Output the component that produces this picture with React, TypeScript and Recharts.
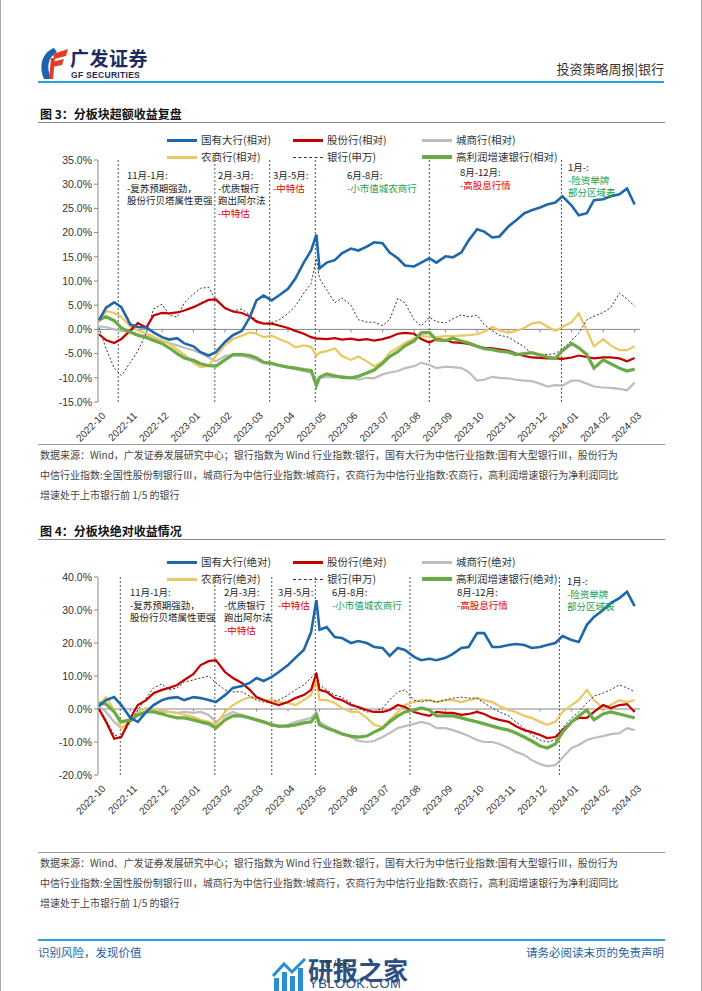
import React from "react";
import { LineChart, Line, XAxis, YAxis, ReferenceLine } from "recharts";

// 时间点（每月四个采样点，另加 2023-04-28 尖峰）
const dates = [
  "2022-10-01", "2022-10-08", "2022-10-16", "2022-10-23",
  "2022-11-01", "2022-11-08", "2022-11-16", "2022-11-23",
  "2022-12-01", "2022-12-08", "2022-12-16", "2022-12-23",
  "2023-01-01", "2023-01-08", "2023-01-16", "2023-01-23",
  "2023-02-01", "2023-02-08", "2023-02-16", "2023-02-23",
  "2023-03-01", "2023-03-08", "2023-03-16", "2023-03-23",
  "2023-04-01", "2023-04-08", "2023-04-16", "2023-04-23", "2023-04-28",
  "2023-05-01", "2023-05-08", "2023-05-16", "2023-05-23",
  "2023-06-01", "2023-06-08", "2023-06-16", "2023-06-23",
  "2023-07-01", "2023-07-08", "2023-07-16", "2023-07-23",
  "2023-08-01", "2023-08-08", "2023-08-16", "2023-08-23",
  "2023-09-01", "2023-09-08", "2023-09-16", "2023-09-23",
  "2023-10-01", "2023-10-08", "2023-10-16", "2023-10-23",
  "2023-11-01", "2023-11-08", "2023-11-16", "2023-11-23",
  "2023-12-01", "2023-12-08", "2023-12-16", "2023-12-23",
  "2024-01-01", "2024-01-08", "2024-01-16", "2024-01-23",
  "2024-02-01", "2024-02-08", "2024-02-16", "2024-02-23",
  "2024-03-01",
];

const monthLabels = [
  "2022-10", "2022-11", "2022-12", "2023-01", "2023-02", "2023-03", "2023-04", "2023-05", "2023-06",
  "2023-07", "2023-08", "2023-09", "2023-10", "2023-11", "2023-12", "2024-01", "2024-02", "2024-03",
];

// 图3 相对收益（%）
const relBig = [1.9, 4.5, 5.6, 4.6, 1.0, 0.5, 0.4, -0.6, -1.6, -2.1, -1.8, -2.9, -3.5, -4.7, -5.4, -4.7, -2.6, -1.2, -0.3, 2.5, 6.0, 7.0, 6.0, 7.0, 8.4, 10.5, 13.8, 16.3, 19.6, 12.6, 13.8, 14.3, 15.7, 16.7, 16.3, 17.1, 18.0, 17.8, 15.9, 14.7, 13.2, 13.0, 13.8, 14.7, 13.8, 15.1, 14.9, 15.9, 18.4, 20.7, 20.2, 19.0, 19.2, 21.3, 22.5, 24.0, 24.6, 25.2, 25.8, 26.2, 27.5, 25.6, 23.6, 24.0, 26.7, 26.9, 27.5, 27.9, 29.1, 25.8];
const relJoint = [-1.0, -2.2, -2.8, -2.0, -0.2, 1.3, 0.4, 2.9, 3.4, 3.3, 3.5, 3.9, 4.6, 5.3, 6.1, 6.2, 4.4, 3.7, 3.4, 2.7, 1.6, 1.2, 1.2, 0.8, 0.3, -0.3, -0.9, -1.6, -1.9, -1.9, -2.0, -1.8, -2.1, -1.9, -2.2, -2.0, -2.3, -2.0, -1.6, -0.9, -0.7, -0.9, -2.0, -2.7, -2.0, -2.2, -2.7, -2.8, -3.0, -3.5, -3.8, -3.9, -4.1, -4.4, -5.0, -5.5, -5.8, -5.9, -6.0, -6.0, -6.1, -5.8, -5.4, -5.7, -6.0, -5.8, -5.8, -6.0, -6.6, -5.9];
const relCity = [0.6, 0.5, 0.0, -0.3, -0.5, -1.0, -1.4, -2.0, -2.3, -2.8, -3.3, -3.8, -4.3, -4.9, -5.8, -6.6, -5.5, -5.3, -5.4, -5.9, -6.3, -7.0, -7.2, -7.5, -7.9, -8.2, -8.6, -9.0, -10.5, -10.0, -9.8, -9.9, -9.6, -10.0, -10.4, -10.0, -10.1, -9.3, -8.9, -8.6, -8.0, -7.6, -6.9, -7.3, -8.0, -7.7, -7.8, -8.0, -8.8, -10.6, -10.4, -9.8, -10.0, -10.1, -10.4, -10.6, -10.7, -11.2, -11.8, -11.5, -11.6, -10.6, -10.6, -11.2, -11.8, -12.0, -12.1, -12.3, -12.6, -11.0];
const relRural = [1.5, 3.8, 3.4, 2.6, 0.6, -0.2, -0.8, -1.5, -2.3, -2.9, -4.2, -5.2, -6.9, -7.8, -7.5, -5.5, -3.3, -2.0, -1.3, -0.6, -0.9, -1.6, -1.3, -2.0, -2.7, -3.7, -3.3, -3.6, -5.4, -4.8, -4.5, -3.9, -5.5, -6.3, -5.6, -6.6, -7.6, -6.7, -4.8, -3.8, -2.8, -1.9, -1.4, -1.5, -1.6, -1.4, -1.4, -1.3, -1.2, -1.0, -0.5, 0.5, -0.2, -0.7, -0.3, 0.3, 1.2, 1.5, 0.6, -0.3, 0.5, 1.5, 3.3, -0.2, -3.5, -2.0, -3.3, -4.3, -4.3, -3.5];
const relBank = [0.4, -4.0, -8.0, -9.5, -6.8, -4.5, -0.8, 4.2, 5.2, 3.0, 2.5, 5.5, 7.3, 8.5, 8.7, 6.0, 4.3, 3.8, 4.2, 3.0, 1.9, 1.2, 1.4, 1.9, 3.3, 4.8, 7.5, 9.5, 14.7, 10.5, 8.2, 5.5, 6.5, 5.0, 2.0, 1.5, 1.5, 0.8, 2.0, 6.4, 5.5, 2.0, 0.7, 2.5, 1.6, 1.3, 2.2, 3.0, 2.6, 2.9, 1.0, -0.3, -1.2, -1.6, -2.6, -3.6, -5.0, -5.1, -5.2, -5.0, -4.0, -2.3, -0.8, 2.0, 2.7, 3.5, 4.5, 7.5, 6.3, 4.8];
const relHigh = [2.0, 2.6, 1.8, 0.3, -0.6, -1.2, -1.7, -2.3, -2.9, -3.8, -5.0, -5.9, -6.4, -7.1, -7.5, -7.6, -6.3, -5.2, -5.2, -5.4, -5.9, -6.8, -7.0, -7.4, -7.8, -8.0, -8.3, -8.5, -11.6, -9.9, -9.2, -9.6, -9.9, -10.0, -9.7, -9.0, -8.4, -7.0, -5.6, -4.6, -3.4, -2.4, -0.7, -0.6, -2.2, -2.3, -1.8, -2.4, -2.8, -3.5, -4.0, -4.2, -4.5, -4.7, -5.2, -5.0, -4.8, -5.3, -5.7, -6.0, -4.4, -2.9, -3.8, -5.2, -8.0, -6.3, -7.1, -8.0, -8.6, -8.2];

// 图4 绝对收益（%）
const absBig = [0.9, 2.7, 3.6, 1.2, -2.7, -3.9, -0.9, 1.2, 2.7, 3.3, 3.6, 2.7, 3.6, 3.3, 2.7, 2.1, 4.2, 6.4, 7.0, 7.9, 9.4, 8.5, 9.7, 11.2, 13.3, 15.5, 17.9, 23.3, 33.0, 24.0, 24.8, 21.8, 21.5, 20.0, 20.6, 20.0, 18.8, 18.5, 16.1, 18.5, 17.9, 15.8, 14.8, 15.2, 14.8, 15.5, 16.7, 18.5, 18.8, 23.0, 23.0, 18.8, 18.8, 19.4, 19.7, 19.4, 18.5, 18.8, 19.4, 20.0, 22.1, 20.9, 20.3, 25.5, 27.9, 30.0, 32.1, 33.6, 35.5, 31.2];
const absJoint = [0.0, -3.9, -9.0, -8.5, -2.7, 1.2, 2.7, 4.8, 5.8, 6.4, 7.3, 8.8, 10.6, 13.3, 14.5, 14.8, 11.2, 9.4, 7.9, 5.8, 3.6, 2.7, 1.8, 1.2, 2.1, 3.3, 4.2, 5.8, 10.9, 5.8, 5.2, 3.3, 2.7, 1.2, 0.6, -0.3, -0.9, -0.9, -0.3, 1.2, 0.6, -0.9, -1.5, -2.1, -0.9, -1.2, -1.2, -1.8, -1.5, -0.9, -1.5, -2.7, -3.3, -3.9, -5.2, -6.4, -7.0, -7.9, -8.8, -8.5, -6.4, -3.9, -2.7, -2.7, -0.9, 1.2, 0.3, 1.2, 1.5, -0.9];
const absCity = [0.9, -0.9, -3.9, -5.8, -3.9, -1.8, -0.9, -0.9, -0.9, -0.9, -1.2, -0.9, -1.2, -0.9, -1.8, -3.9, -2.1, -0.9, -1.8, -2.7, -3.3, -4.2, -4.5, -5.5, -4.8, -3.9, -3.3, -2.7, -0.9, -3.9, -5.2, -6.4, -7.3, -8.5, -9.7, -10.0, -9.7, -8.5, -7.3, -5.8, -5.2, -4.5, -3.9, -4.5, -5.8, -5.8, -6.4, -7.3, -8.2, -9.4, -10.0, -10.0, -10.6, -11.8, -13.0, -13.9, -15.5, -16.7, -17.3, -17.0, -14.8, -11.8, -10.9, -9.4, -8.8, -8.2, -7.6, -7.3, -5.8, -6.4];
const absRural = [1.5, 3.6, -0.3, -5.8, -3.9, -0.9, 0.3, -0.3, -0.3, -0.9, -1.2, -1.8, -2.4, -3.3, -3.9, -4.8, -0.9, 1.2, 2.7, 3.6, 3.3, 2.7, 2.7, 2.1, 1.8, 1.2, 2.7, 4.2, 8.8, 2.7, 2.7, 1.8, 0.3, -0.9, -0.9, -2.7, -4.8, -5.5, -3.3, -0.9, 1.2, 2.1, 2.7, 2.7, 2.1, 2.7, 2.7, 2.1, 2.7, 3.3, 2.7, 2.1, 0.9, -0.3, -0.9, -2.1, -2.7, -3.9, -4.8, -3.9, -0.9, 1.2, 2.7, 5.8, 2.7, 0.3, 1.2, 2.7, 2.1, 2.7];
const absBank = [0.3, -3.3, -7.9, -8.5, -3.9, -0.3, 3.3, 6.4, 7.6, 5.8, 6.4, 8.2, 8.8, 9.4, 10.0, 7.9, 5.8, 5.2, 5.2, 3.9, 2.7, 2.1, 2.1, 2.7, 4.2, 5.8, 7.3, 9.4, 11.2, 7.3, 5.8, 4.2, 3.6, 1.8, 0.3, -0.9, -0.9, 0.3, 2.7, 5.2, 5.8, 2.7, 2.1, 2.7, 2.1, 2.7, 3.3, 3.6, 3.3, 3.3, 1.8, 0.3, -0.9, -2.1, -3.9, -5.8, -7.9, -9.4, -10.0, -9.4, -5.8, -2.7, -0.9, 1.8, 3.9, 4.8, 5.8, 7.3, 6.4, 5.2];
const absHigh = [1.8, 1.5, -0.9, -3.9, -3.3, -1.8, -0.9, -0.9, -1.5, -2.1, -2.7, -2.7, -3.3, -3.9, -4.5, -5.8, -3.3, -2.1, -2.1, -2.7, -3.3, -3.9, -4.8, -5.2, -5.2, -4.8, -4.2, -3.9, -1.8, -4.8, -5.8, -6.7, -7.6, -8.2, -8.5, -8.2, -7.0, -5.8, -3.9, -2.1, -0.9, -0.3, 0.3, -0.3, -2.1, -2.1, -2.1, -2.7, -3.3, -3.9, -4.5, -5.2, -5.8, -6.4, -7.3, -8.5, -9.7, -11.2, -11.8, -10.6, -7.0, -3.9, -2.1, -0.3, -3.3, -1.5, -0.9, -1.5, -2.1, -2.7];

// 分段标记（竖虚线）
const marks3 = ["2022-10-20", "2023-01-22", "2023-03-14", "2023-04-27", "2023-08-16", "2023-12-22"];
const marks4 = ["2022-10-22", "2023-01-22", "2023-03-16", "2023-04-27", "2023-07-28", "2023-12-20"];

const toT = (s: string) => {
  const [y, m, d] = s.split("-").map(Number);
  const dim = new Date(y, m, 0).getDate();
  return (y - 2022) * 12 + (m - 10) + (d - 1) / dim;
};

const build = (big: number[], joint: number[], city: number[], rural: number[], bank: number[], high: number[]) =>
  dates.map((d, i) => ({ t: toT(d), big: big[i], joint: joint[i], city: city[i], rural: rural[i], bank: bank[i], high: high[i] }));

const data3 = build(relBig, relJoint, relCity, relRural, relBank, relHigh);
const data4 = build(absBig, absJoint, absCity, absRural, absBank, absHigh);

const series = [
  { key: "city", color: "#bdbdbd", width: 2.2, dash: undefined },
  { key: "rural", color: "#ebc760", width: 2.2, dash: undefined },
  { key: "bank", color: "#333333", width: 1, dash: "2 2" },
  { key: "joint", color: "#c40000", width: 2.2, dash: undefined },
  { key: "high", color: "#6aab45", width: 3.2, dash: undefined },
  { key: "big", color: "#1d67aa", width: 2.6, dash: undefined },
];

const FONT = "'Liberation Sans', Arial, 'Noto Sans CJK SC', sans-serif";
const CJK = "'Noto Sans CJK SC', 'Liberation Sans', sans-serif";
const RED = "#e00000";
const GREEN = "#1aa050";

const RotTick = (props: any) => {
  const { x, y, payload } = props;
  return (
    <g transform={`translate(${x + 3},${y + 2})`}>
      <text x={0} y={0} dy={6} textAnchor="end" transform="rotate(-45)" fontSize={10} fill="#333" fontFamily={FONT}>
        {monthLabels[payload.value]}
      </text>
    </g>
  );
};

type PanelProps = {
  top: number;
  plotTop: number;
  plotBottom: number;
  axisH: number;
  domain: [number, number];
  yTicks: number[];
  data: any[];
  marks: string[];
};

const Panel = ({ top, plotTop, plotBottom, axisH, domain, yTicks, data, marks }: PanelProps) => {
  const height = plotBottom - top + axisH;
  const ticks = monthLabels.map((_, i) => i);
  return (
    <div style={{ position: "absolute", left: 0, top }}>
      <LineChart width={702} height={height} data={data} margin={{ top: plotTop - top, right: 62, bottom: 0, left: 38 }}>
        <XAxis
          type="number"
          dataKey="t"
          domain={[-0.03, 17.17]}
          ticks={ticks}
          tick={<RotTick />}
          tickLine={false}
          axisLine={false}
          height={axisH}
          interval={0}
          allowDataOverflow
        />
        <YAxis
          width={60}
          domain={domain}
          ticks={yTicks}
          interval={0}
          tickFormatter={(v: number) => `${v.toFixed(1)}%`}
          tick={{ fontSize: 10.5, fill: "#333", fontFamily: FONT }}
          tickLine={{ stroke: "#888" }}
          tickSize={4}
          axisLine={{ stroke: "#888" }}
        />
        <ReferenceLine y={0} stroke="#888" strokeWidth={1} />
        {ticks.map((i) => (
          <ReferenceLine key={"tk" + i} segment={[{ x: i, y: 0 }, { x: i, y: -(domain[1] - domain[0]) / 80 }]} stroke="#888" />
        ))}
        {marks.map((m) => (
          <ReferenceLine key={m} x={toT(m)} stroke="#555" strokeDasharray="2 2" strokeWidth={1} />
        ))}
        {series.map((s) => (
          <Line
            key={s.key}
            type="linear"
            dataKey={s.key}
            stroke={s.color}
            strokeWidth={s.width}
            strokeDasharray={s.dash}
            dot={false}
            isAnimationActive={false}
          />
        ))}
      </LineChart>
    </div>
  );
};

const Legend = ({ top, tag }: { top: number; tag: string }) => {
  const items = [
    { x: 167, y: 0, color: "#1d67aa", h: 3, label: `国有大行(${tag})` },
    { x: 293, y: 0, color: "#c40000", h: 3, label: `股份行(${tag})` },
    { x: 422, y: 0, color: "#bdbdbd", h: 3, label: `城商行(${tag})` },
    { x: 167, y: 17, color: "#ebc760", h: 3, label: `农商行(${tag})` },
    { x: 293, y: 17, color: "dash", h: 1, label: "银行(申万)" },
    { x: 422, y: 17, color: "#6aab45", h: 4, label: `高利润增速银行(${tag})` },
  ];
  return (
    <>
      {items.map((it) => (
        <div key={it.label} style={{ position: "absolute", left: it.x, top: top + it.y - 7, height: 14, display: "flex", alignItems: "center" }}>
          {it.color === "dash" ? (
            <div style={{ width: 30, borderTop: "1.2px dashed #333" }} />
          ) : (
            <div style={{ width: 30, height: it.h, background: it.color }} />
          )}
          <span style={{ marginLeft: 4, fontSize: 10.5, lineHeight: "14px", color: "#333", fontFamily: CJK, whiteSpace: "nowrap" }}>{it.label}</span>
        </div>
      ))}
    </>
  );
};

type Note = { x: number; y: number; lines: { text: string; color?: string }[] };

const Notes = ({ notes }: { notes: Note[] }) => (
  <>
    {notes.map((n, i) => (
      <div key={i} style={{ position: "absolute", left: n.x, top: n.y - 6, fontSize: 9.5, lineHeight: "12.5px", fontFamily: CJK, color: "#222", whiteSpace: "nowrap" }}>
        {n.lines.map((l, j) => (
          <div key={j} style={{ color: l.color || "#222" }}>{l.text}</div>
        ))}
      </div>
    ))}
  </>
);

const notes3: Note[] = [
  { x: 127, y: 175, lines: [{ text: "11月-1月:" }, { text: "-复苏预期强劲，" }, { text: "股份行贝塔属性更强" }] },
  { x: 218, y: 175, lines: [{ text: "2月-3月:" }, { text: "-优质银行" }, { text: "跑出阿尔法" }, { text: "-中特估", color: RED }] },
  { x: 273, y: 175, lines: [{ text: "3月-5月:" }, { text: "-中特估", color: RED }] },
  { x: 347, y: 175, lines: [{ text: "6月-8月:" }, { text: "-小市值城农商行", color: GREEN }] },
  { x: 460, y: 172, lines: [{ text: "8月-12月:" }, { text: "-高股息行情", color: RED }] },
  { x: 568, y: 167, lines: [{ text: "1月-:" }, { text: "-险资举牌", color: GREEN }, { text: "部分区域表", color: GREEN }] },
];

const notes4: Note[] = [
  { x: 130, y: 592, lines: [{ text: "11月-1月:" }, { text: "-复苏预期强劲，" }, { text: "股份行贝塔属性更强" }] },
  { x: 224, y: 592, lines: [{ text: "2月-3月:" }, { text: "-优质银行" }, { text: "跑出阿尔法" }, { text: "-中特估", color: RED }] },
  { x: 278, y: 592, lines: [{ text: "3月-5月:" }, { text: "-中特估", color: RED }] },
  { x: 332, y: 592, lines: [{ text: "6月-8月:" }, { text: "-小市值城农商行", color: GREEN }] },
  { x: 457, y: 592, lines: [{ text: "8月-12月:" }, { text: "-高股息行情", color: RED }] },
  { x: 567, y: 581, lines: [{ text: "1月-:" }, { text: "-险资举牌", color: GREEN }, { text: "部分区域表", color: GREEN }] },
];

const srcLines = (sep: string) => [
  `数据来源：Wind${sep}广发证券发展研究中心；银行指数为 Wind 行业指数:银行，国有大行为中信行业指数:国有大型银行Ⅲ，股份行为`,
  "中信行业指数:全国性股份制银行Ⅲ，城商行为中信行业指数:城商行，农商行为中信行业指数:农商行，高利润增速银行为净利润同比",
  "增速处于上市银行前 1/5 的银行",
];

const Source = ({ top, sep }: { top: number; sep: string }) => (
  <>
    <div style={{ position: "absolute", left: 38, top, width: 627, height: 1, background: "#999" }} />
    <div style={{ position: "absolute", left: 40, top: top + 1, fontSize: 10, lineHeight: "20px", color: "#444", fontFamily: CJK, whiteSpace: "nowrap" }}>
      {srcLines(sep).map((l) => (
        <div key={l}>{l}</div>
      ))}
    </div>
  </>
);

const Title = ({ top, text }: { top: number; text: string }) => (
  <>
    <div style={{ position: "absolute", left: 40, top: top - 9, fontSize: 12, fontWeight: 700, color: "#111", fontFamily: CJK, whiteSpace: "nowrap" }}>{text}</div>
    <div style={{ position: "absolute", left: 38, top: top + 8, width: 627, height: 1, background: "#888" }} />
  </>
);

export default function App() {
  return (
    <div style={{ position: "absolute", left: 0, top: 0, width: 702, height: 991, background: "#fff", overflow: "hidden", fontFamily: CJK }}>
      <div style={{ position: "absolute", left: 0, top: 0, width: 1, height: 991, background: "#aaa" }} />
      <div style={{ position: "absolute", right: 0, top: 0, width: 1, height: 991, background: "#aaa" }} />

      {/* 页眉 */}
      <svg style={{ position: "absolute", left: 38, top: 46 }} width={32} height={34}>
        <path d="M16 2 C5 6 0 19 6 33 L13 33 C8 21 10 11 19 6 Z" fill="#1d62b0" />
        <path d="M15 8 L30 3 L28 10 L16 13 Z" fill="#e53a27" />
        <path d="M14 16 L26 13 L24 19 L14 21 Z" fill="#e53a27" />
        <path d="M13 12 L17 12 L15 33 L11 33 Z" fill="#e53a27" />
      </svg>
      <div style={{ position: "absolute", left: 70, top: 47, fontSize: 19, lineHeight: "22px", fontWeight: 700, color: "#1b2c5c", fontFamily: CJK, letterSpacing: 0.5 }}>广发证券</div>
      <div style={{ position: "absolute", left: 71, top: 70, fontSize: 8.5, lineHeight: "10px", fontWeight: 700, color: "#1b2c5c", fontFamily: FONT, letterSpacing: 0.3 }}>GF SECURITIES</div>
      <div style={{ position: "absolute", right: 38, top: 59, fontSize: 13, color: "#333", fontFamily: CJK }}>投资策略周报|银行</div>
      <div style={{ position: "absolute", left: 38, top: 81, width: 626, height: 1.5, background: "#29a3dc" }} />

      {/* 图3 */}
      <Title top={114} text="图 3：分板块超额收益复盘" />
      <Legend top={140} tag="相对" />
      <Panel top={150} plotTop={160} plotBottom={402} axisH={48} domain={[-15, 35]} yTicks={[-15, -10, -5, 0, 5, 10, 15, 20, 25, 30, 35]} data={data3} marks={marks3} />
      <Notes notes={notes3} />
      <Source top={444} sep="，" />

      {/* 图4 */}
      <Title top={531} text="图 4：分板块绝对收益情况" />
      <Legend top={562} tag="绝对" />
      <Panel top={567} plotTop={577} plotBottom={775} axisH={70} domain={[-20, 40]} yTicks={[-20, -10, 0, 10, 20, 30, 40]} data={data4} marks={marks4} />
      <Notes notes={notes4} />
      <Source top={852} sep="、" />

      {/* 页脚 */}
      <div style={{ position: "absolute", left: 38, top: 939, width: 627, height: 1.5, background: "#29a3dc" }} />
      <div style={{ position: "absolute", left: 38, top: 944, fontSize: 11.5, color: "#1d5fa8", fontFamily: CJK }}>识别风险，发现价值</div>
      <div style={{ position: "absolute", right: 38, top: 944, fontSize: 11.5, color: "#1d5fa8", fontFamily: CJK }}>请务必阅读末页的免责声明</div>
      <svg style={{ position: "absolute", left: 272, top: 958 }} width={36} height={33}>
        <rect x={2} y={20} width={5} height={13} fill="#2a8fd0" />
        <rect x={10} y={14} width={5} height={19} fill="#2a8fd0" />
        <rect x={18} y={18} width={5} height={15} fill="#2a8fd0" />
        <rect x={26} y={10} width={5} height={23} fill="#2a8fd0" />
        <path d="M1 18 L12 6 L20 14 L33 1" stroke="#2a8fd0" strokeWidth={3} fill="none" />
      </svg>
      <div style={{ position: "absolute", left: 308, top: 955, fontSize: 25, fontWeight: 700, color: "#2f4f7f", fontFamily: CJK, lineHeight: "28px" }}>研报之家</div>
      <div style={{ position: "absolute", left: 309, top: 977, fontSize: 13, lineHeight: "14px", color: "#2f4f7f", fontFamily: FONT, letterSpacing: 0.5 }}>YBLOOK.COM</div>
      <div style={{ position: "absolute", left: 325, top: 959, fontSize: 10, color: "#333", fontFamily: FONT }}>8 / 36</div>
    </div>
  );
}
